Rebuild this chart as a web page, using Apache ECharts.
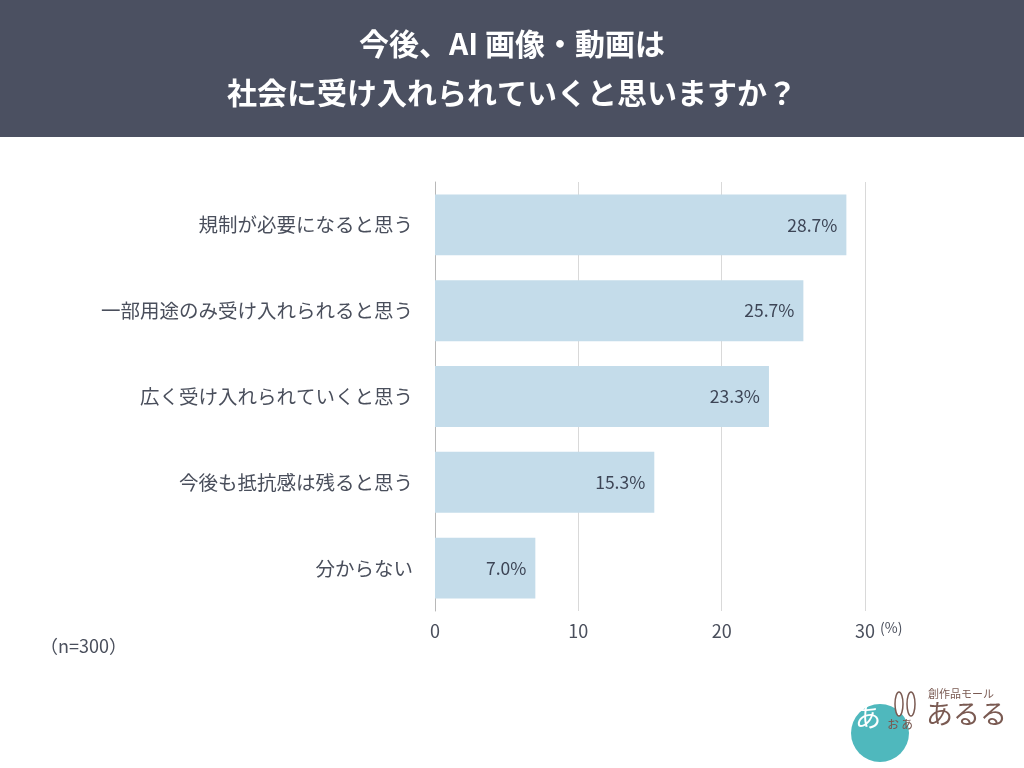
<!DOCTYPE html>
<html lang="ja">
<head>
<meta charset="UTF-8">
<title>AI画像・動画の受け入れ</title>
<script src="https://cdn.jsdelivr.net/npm/echarts@6/dist/echarts.min.js"></script>
<style>
  html, body { margin: 0; padding: 0; background: #fff; }
  #main { width: 1024px; height: 768px; }
</style>
</head>
<body>
<div id="main"></div>
<script>
// 回答項目（上から順）
var categories = ['規制が必要になると思う', '一部用途のみ受け入れられると思う', '広く受け入れられていくと思う', '今後も抵抗感は残ると思う', '分からない'];
var values = [28.7, 25.7, 23.3, 15.3, 7.0];
var xTicks = [0, 10, 20, 30];

var font = '"Noto Sans CJK JP", "Noto Sans", sans-serif';
var chart = echarts.init(document.getElementById('main'));

chart.setOption({
  backgroundColor: '#ffffff',
  animation: false,
  grid: { left: 435, right: 159, top: 182, bottom: 157 },
  xAxis: {
    type: 'value',
    min: xTicks[0],
    max: xTicks[xTicks.length - 1],
    interval: 10,
    axisLine: { show: false },
    axisTick: { show: false },
    splitLine: { lineStyle: { color: '#d9d9d9', width: 1 } },
    axisLabel: { color: '#4a4f5c', fontSize: 18, fontFamily: font, margin: 11 }
  },
  yAxis: {
    type: 'category',
    inverse: true,
    data: categories,
    axisLine: { show: true, lineStyle: { color: '#b8b8b8', width: 1 } },
    axisTick: { show: false },
    axisLabel: { color: '#4a4f5c', fontSize: 19.5, fontFamily: font, margin: 22 }
  },
  series: [{
    type: 'bar',
    data: values,
    barCategoryGap: '29%',
    itemStyle: { color: '#c4dcea' },
    label: {
      show: true,
      position: 'insideRight',
      distance: 9,
      color: '#3d4556',
      fontSize: 17.5,
      fontFamily: font,
      formatter: function (p) { return p.value.toFixed(1) + '%'; }
    }
  }],
  graphic: [
    { type: 'rect', left: 0, top: 0, shape: { width: 1024, height: 137 }, style: { fill: '#4b5061' }, z: -1 },
    { type: 'text', left: 'center', top: 29, style: { text: '今後、AI 画像・動画は', fill: '#ffffff', font: 'bold 30px ' + font } },
    { type: 'text', left: 'center', top: 78, style: { text: '社会に受け入れられていくと思いますか？', fill: '#ffffff', font: 'bold 30px ' + font } },
    { type: 'text', left: 880, top: 621, style: { text: '(%)', fill: '#4a4f5c', font: '14px ' + font } },
    { type: 'text', left: 40, top: 637, style: { text: '（n=300）', fill: '#4a4f5c', font: '18px ' + font } },
    // ロゴ
    { type: 'circle', shape: { cx: 880, cy: 733, r: 29 }, style: { fill: '#4fb8bd' } },
    { type: 'text', left: 855, top: 704, style: { text: 'あ', fill: '#ffffff', font: '26px ' + font } },
    { type: 'ellipse', shape: { cx: 899, cy: 704, rx: 4, ry: 12 }, style: { fill: '#ffffff', stroke: '#7a5a52', lineWidth: 1.5 } },
    { type: 'ellipse', shape: { cx: 911, cy: 704, rx: 4, ry: 12 }, style: { fill: '#ffffff', stroke: '#7a5a52', lineWidth: 1.5 } },
    { type: 'text', left: 886, top: 716, style: { text: 'ぉぁ', fill: '#7a5a52', font: '14px ' + font } },
    { type: 'text', left: 928, top: 688, style: { text: '創作品モール', fill: '#7a5a52', font: '11px ' + font } },
    { type: 'text', left: 926, top: 700, style: { text: 'あるる', fill: '#7a5a52', font: '27px ' + font } }
  ]
});
</script>
</body>
</html>
